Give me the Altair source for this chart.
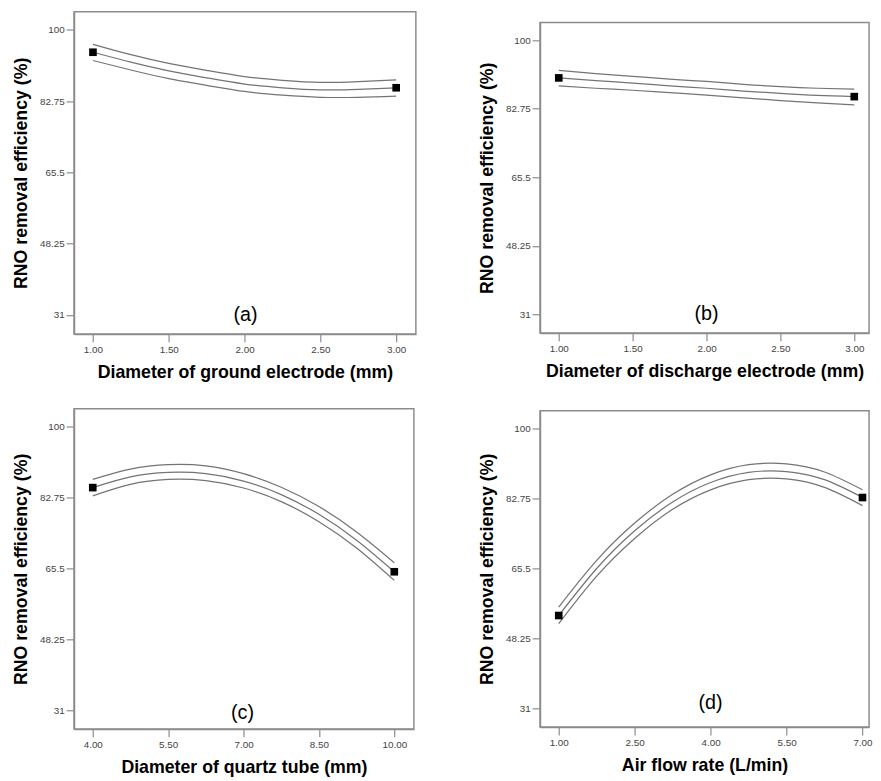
import altair as alt
import pandas as pd

Y_TITLE = "RNO removal efficiency (%)"
Y_TICKS = [31, 48.25, 65.5, 82.75, 100]
Y_DOMAIN = [26.4, 104.4]

# Panel (a)
A_X = [1.0, 1.25, 1.5, 1.75, 2.0, 2.25, 2.5, 2.75, 3.0]
A_MID = [94.6, 92.2, 90.1, 88.4, 86.9, 86.0, 85.5, 85.6, 86.0]
A_UP = [96.5, 94.0, 91.9, 90.2, 88.7, 87.8, 87.3, 87.5, 87.9]
A_LO = [92.6, 90.3, 88.2, 86.6, 85.1, 84.2, 83.7, 83.7, 84.0]
A_PTS_X = [1.0, 3.0]
A_PTS_Y = [94.6, 86.0]
A_TICKS = [1.0, 1.5, 2.0, 2.5, 3.0]
A_TITLE = "Diameter of ground electrode (mm)"

# Panel (b)
B_X = [1.0, 1.25, 1.5, 1.75, 2.0, 2.25, 2.5, 2.75, 3.0]
B_MID = [90.5, 89.8, 89.2, 88.5, 87.9, 87.2, 86.6, 86.1, 85.8]
B_UP = [92.4, 91.6, 90.9, 90.2, 89.6, 88.9, 88.3, 87.9, 87.7]
B_LO = [88.5, 87.9, 87.4, 86.8, 86.2, 85.5, 84.8, 84.2, 83.7]
B_PTS_X = [1.0, 3.0]
B_PTS_Y = [90.5, 85.8]
B_TICKS = [1.0, 1.5, 2.0, 2.5, 3.0]
B_TITLE = "Diameter of discharge electrode (mm)"

# Panel (c)
C_X = [4.0, 4.75, 5.5, 6.25, 7.0, 7.75, 8.5, 9.25, 10.0]
C_MID = [85.2, 87.8, 88.9, 88.6, 86.8, 83.5, 78.7, 72.4, 64.7]
C_UP = [87.2, 89.7, 90.8, 90.5, 88.6, 85.3, 80.6, 74.4, 66.9]
C_LO = [83.2, 86.0, 87.2, 86.9, 85.1, 81.8, 76.9, 70.5, 62.6]
C_PTS_X = [4.0, 10.0]
C_PTS_Y = [85.2, 64.7]
C_TICKS = [4.0, 5.5, 7.0, 8.5, 10.0]
C_TITLE = "Diameter of quartz tube (mm)"

# Panel (d)
D_X = [1.0, 1.75, 2.5, 3.25, 4.0, 4.75, 5.5, 6.25, 7.0]
D_MID = [53.9, 65.5, 74.8, 81.9, 86.7, 89.2, 89.4, 87.4, 83.0]
D_UP = [56.0, 67.5, 76.7, 83.8, 88.6, 91.1, 91.3, 89.3, 84.9]
D_LO = [51.9, 63.6, 72.9, 80.1, 84.9, 87.4, 87.6, 85.5, 81.0]
D_PTS_X = [1.0, 7.0]
D_PTS_Y = [53.9, 83.0]
D_TICKS = [1.0, 2.5, 4.0, 5.5, 7.0]
D_TITLE = "Air flow rate (L/min)"

LABELS = ["(a)", "(b)", "(c)", "(d)"]

LINE_COLOR = "#747474"
FRAME_COLOR = "#8c8c8c"


def panel(xs, mid, up, lo, px, py, ticks, xdom, xtitle, label, w, h, lx, ly):
    rows = []
    for name, ys in (("mid", mid), ("up", up), ("lo", lo)):
        for x, y in zip(xs, ys):
            rows.append({"x": x, "y": y, "s": name})
    df = pd.DataFrame(rows)
    pts = pd.DataFrame({"x": px, "y": py})
    xsc = alt.Scale(domain=xdom, nice=False, zero=False)
    ysc = alt.Scale(domain=Y_DOMAIN, nice=False, zero=False)
    xax = alt.Axis(values=ticks, format=".2f", title=xtitle, grid=False,
                   titlePadding=9, labelPadding=3)
    yax = alt.Axis(values=Y_TICKS, labelExpr="'' + datum.value", title=Y_TITLE,
                   grid=False, titlePadding=9, labelPadding=2, titleFontSize=18)
    lines = alt.Chart(df).mark_line(color=LINE_COLOR, strokeWidth=1.25,
                                    interpolate="natural", clip=True).encode(
        x=alt.X("x:Q", scale=xsc, axis=xax),
        y=alt.Y("y:Q", scale=ysc, axis=yax),
        detail="s:N",
    )
    squares = alt.Chart(pts).mark_square(color="black", size=60, opacity=1,
                                         filled=True).encode(
        x="x:Q", y="y:Q"
    )
    text = alt.Chart(pd.DataFrame({"t": [label]})).mark_text(
        fontSize=20, font="Liberation Sans", baseline="middle", align="center",
        color="black"
    ).encode(text="t:N", x=alt.value(lx), y=alt.value(ly))
    return alt.layer(lines, squares, text).properties(width=w, height=h)


# invisible spacer that pushes panel (b) a little lower than panel (a)
spacer = alt.Chart(pd.DataFrame({"t": [""]})).mark_point(opacity=0).encode(
    x=alt.value(0), y=alt.value(0)
).properties(width=1, height=10, view=alt.ViewBackground(strokeOpacity=0))

pa = panel(A_X, A_MID, A_UP, A_LO, A_PTS_X, A_PTS_Y, A_TICKS, [0.875, 3.13],
           A_TITLE, LABELS[0], 347, 327, 174, 308)
pb = panel(B_X, B_MID, B_UP, B_LO, B_PTS_X, B_PTS_Y, B_TICKS, [0.873, 3.10],
           B_TITLE, LABELS[1], 334, 315, 169, 296)
pc = panel(C_X, C_MID, C_UP, C_LO, C_PTS_X, C_PTS_Y, C_TICKS, [3.627, 10.39],
           C_TITLE, LABELS[2], 345, 325, 171, 309)
pd_ = panel(D_X, D_MID, D_UP, D_LO, D_PTS_X, D_PTS_Y, D_TICKS, [0.63, 7.13],
            D_TITLE, LABELS[3], 334, 321, 173, 297)

left = alt.vconcat(pa, pc, spacing=26)
right = alt.vconcat(alt.vconcat(spacer, pb, spacing=0), pd_, spacing=29)

chart = alt.hconcat(left, right, spacing=62).properties(
    padding={"left": 4, "top": -5, "right": 0, "bottom": 0}
).configure_view(
    stroke=FRAME_COLOR, strokeWidth=1.5
).configure_axis(
    domainColor=FRAME_COLOR, domainWidth=1.5,
    tickColor=FRAME_COLOR, tickWidth=1.2, tickSize=8,
    labelFont="Liberation Sans", labelFontSize=10, labelColor="#444444",
    titleFont="Liberation Sans", titleFontSize=18, titleFontWeight="bold",
    titleColor="black",
)

chart.save("out.html", embed_options={"renderer": "svg", "actions": False})
